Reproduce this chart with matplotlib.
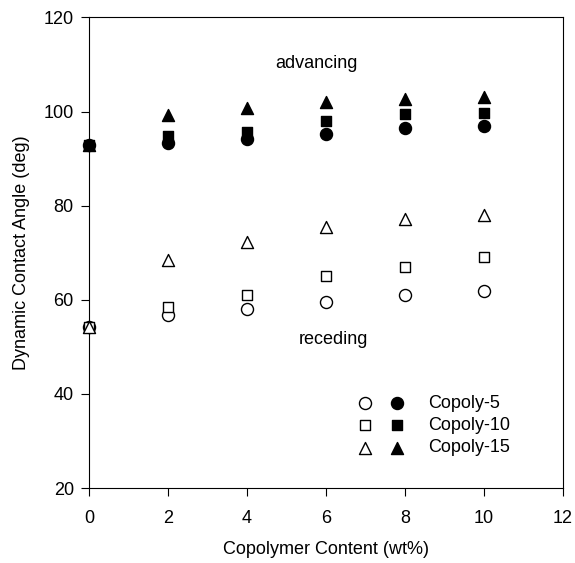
import matplotlib
matplotlib.use("Agg")
import matplotlib.pyplot as plt
from matplotlib.legend_handler import HandlerTuple

plt.rcParams['font.family'] = ['Liberation Sans', 'DejaVu Sans']

content = [0, 2, 4, 6, 8, 10]

# advancing angles (filled markers)
adv_5 = [92.8, 93.3, 94.2, 95.3, 96.5, 96.9]
adv_10 = [93.0, 94.9, 95.6, 98.1, 99.5, 99.7]
adv_15 = [93.0, 99.3, 100.7, 102.0, 102.7, 103.1]

# receding angles (open markers)
rec_5 = [54.2, 56.8, 58.1, 59.5, 61.1, 61.8]
rec_10 = [54.2, 58.4, 61.1, 65.0, 67.0, 69.0]
rec_15 = [54.2, 68.5, 72.3, 75.4, 77.2, 78.0]

names = ['Copoly-5', 'Copoly-10', 'Copoly-15']
markers = ['o', 's', '^']
sizes = [75, 55, 75]

fig = plt.figure(figsize=(5.75, 5.63), dpi=100)
ax = fig.add_axes([0.155, 0.133, 0.824, 0.836])

handles = []
for adv, rec, m, s in zip([adv_5, adv_10, adv_15], [rec_5, rec_10, rec_15], markers, sizes):
    ho = ax.scatter(content, rec, marker=m, s=s, facecolors='white',
                    edgecolors='black', linewidths=1.0, zorder=3, clip_on=False)
    hf = ax.scatter(content, adv, marker=m, s=s, color='black', zorder=3, clip_on=False)
    handles.append((ho, hf))

ax.text(5.75, 110.2, 'advancing', fontsize=13, ha='center', va='center')
ax.text(6.2, 51.5, 'receding', fontsize=13, ha='center', va='center')

ax.legend(handles, names, handler_map={tuple: HandlerTuple(ndivide=None, pad=0)},
          loc='upper left', bbox_to_anchor=(0.5295, 0.218), frameon=False,
          borderpad=0, fontsize=13, handlelength=3.54, handletextpad=0.83,
          labelspacing=0.3)

ax.set_xlim(0, 12)
ax.set_ylim(20, 120)
ax.set_xticks(range(0, 13, 2))
ax.set_yticks(range(20, 121, 20))
ax.tick_params(direction='out', labelsize=13, length=6)
ax.tick_params(axis='x', pad=10)
ax.tick_params(axis='y', pad=5)
ax.set_xlabel('Copolymer Content (wt%)', fontsize=13, labelpad=10)
ax.set_ylabel('Dynamic Contact Angle (deg)', fontsize=13, labelpad=10)

fig.savefig('out.png', dpi=100)
